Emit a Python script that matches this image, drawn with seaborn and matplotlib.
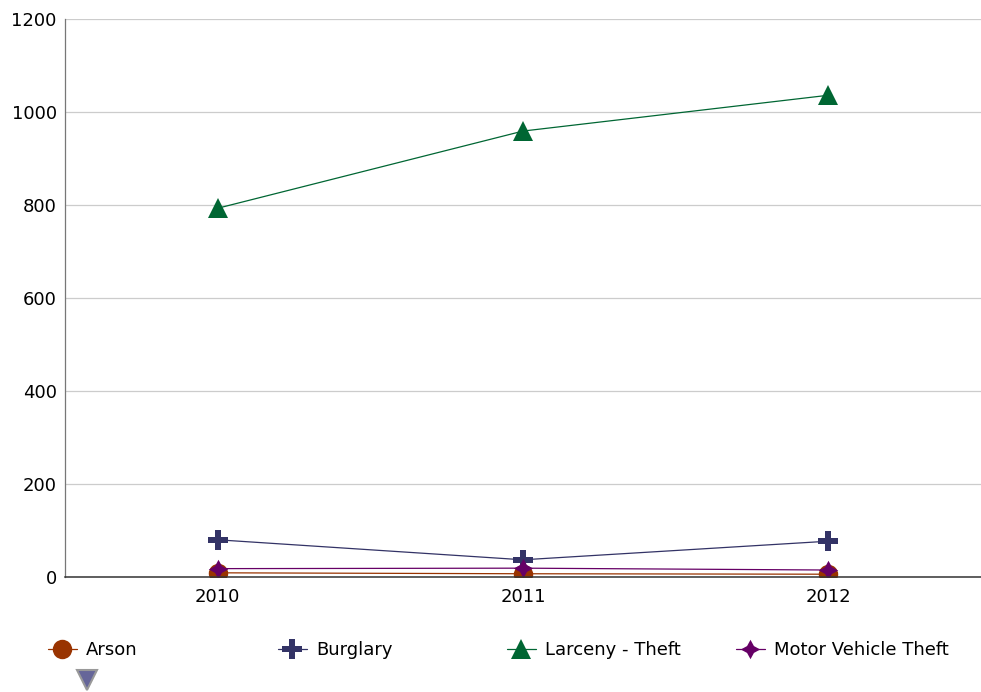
import pandas as pd
import numpy as np
import matplotlib.pyplot as plt
import seaborn as sns
from matplotlib.lines import Line2D

years = ['2010', '2011', '2012']
arson = [9, 7, 6]
burglary = [80, 37, 77]
larceny = [793, 959, 1036]
motor_vehicle = [18, 19, 15]

series = ['Arson', 'Burglary', 'Larceny - Theft', 'Motor Vehicle Theft']
colors = ['#993300', '#333366', '#006633', '#660066']
markers = ['o', 'P', '^', (4, 1, 0)]

df = pd.DataFrame({
    'year': years * 4,
    'crime': np.repeat(series, 3),
    'count': arson + burglary + larceny + motor_vehicle,
})

sns.set_theme(style="white")
plt.rcParams['font.family'] = ['DejaVu Sans']

fig = plt.figure(figsize=(9.81, 6.92), dpi=100)
ax = fig.add_axes([65 / 981, 1 - 577 / 692, 1 - 65 / 981, (577 - 19) / 692])

sns.lineplot(data=df, x='year', y='count', hue='crime', style='crime',
             palette=colors, markers=markers, dashes=False, linewidth=0.9,
             markersize=14, markeredgewidth=0, legend=False, ax=ax, sort=False)

ax.set_xlim(-0.5, 2.5)
ax.set_ylim(0, 1200)
ax.set_yticks(range(0, 1201, 200))
ax.yaxis.grid(True, color='#cccccc', linewidth=0.9)
ax.xaxis.grid(False)
ax.set_axisbelow(True)
for s in ['top', 'right']:
    ax.spines[s].set_visible(False)
ax.spines['left'].set_color('#777777')
ax.spines['bottom'].set_color('#333333')
ax.spines['left'].set_linewidth(0.9)
ax.spines['bottom'].set_linewidth(1.1)
ax.tick_params(axis='both', length=0, labelsize=13, colors='black', pad=6)
ax.tick_params(axis='x', pad=8)
ax.set_xlabel('')
ax.set_ylabel('')

# one legend per column so the columns are evenly spaced like the original
legend_x = [39, 269, 498, 727]
for lab, c, m, x in zip(series, colors, markers, legend_x):
    h = Line2D([0], [0], color=c, marker=m, markersize=14, markeredgewidth=0, linewidth=0.9)
    fig.legend([h], [lab], loc='upper left', bbox_to_anchor=(x / 981, 1 - 632 / 692),
               frameon=False, fontsize=13, labelcolor='black', handlelength=1.6,
               handletextpad=0.5, borderpad=0)

extra = Line2D([0], [0], color='none', marker='v', markersize=14,
               markerfacecolor='#666699', markeredgecolor='#999999', markeredgewidth=1.5)
fig.legend([extra], [''], loc='upper left', bbox_to_anchor=(64 / 981, 1 - 663 / 692),
           frameon=False, fontsize=13, handlelength=1.6, handletextpad=0.5, borderpad=0)

fig.savefig('out.png', dpi=100)
